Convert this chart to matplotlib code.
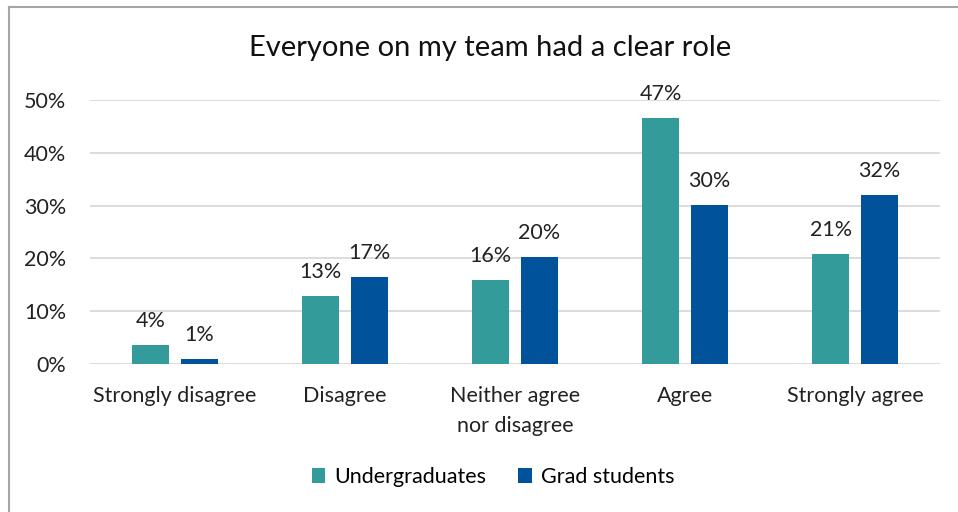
import matplotlib
from matplotlib import pyplot as plt
from matplotlib.lines import Line2D
import numpy as np

matplotlib.use('Agg')

categories = ['Strongly disagree', 'Disagree', 'Neither agree\nnor disagree', 'Agree', 'Strongly agree']
undergrad = [3.6, 12.9, 15.9, 46.6, 20.8]
grad = [0.9, 16.5, 20.3, 30.1, 32.0]
undergrad_labels = ['4%', '13%', '16%', '47%', '21%']
grad_labels = ['1%', '17%', '20%', '30%', '32%']

plt.rcParams['font.family'] = ['Lato', 'DejaVu Sans']

fig = plt.figure(figsize=(9.58, 5.12), dpi=100)
ax = fig.add_axes([90 / 958, 1 - 364 / 512, 850 / 958, 264 / 512])

x = np.arange(len(categories))
w = 0.22
off = 0.143
b1 = ax.bar(x - off, undergrad, w, color='#339B99', label='Undergraduates', zorder=3)
b2 = ax.bar(x + off, grad, w, color='#00529B', label='Grad students', zorder=3)

for bars, labels in ((b1, undergrad_labels), (b2, grad_labels)):
    for rect, lab in zip(bars, labels):
        ax.text(rect.get_x() + rect.get_width() / 2, rect.get_height() + 2.7, lab,
                ha='center', va='bottom', fontsize=15.5, color='#222222')

ax.set_xlim(-0.5, 4.5)
ax.set_ylim(0, 50)
ax.set_yticks(range(0, 51, 10))
ax.set_yticklabels([f'{v}%' for v in range(0, 51, 10)], fontsize=15.5, color='#222222')
ax.set_xticks(x)
ax.set_xticklabels(categories, fontsize=15.5, color='#222222', linespacing=1.6)
ax.tick_params(axis='y', length=0, pad=17)
ax.tick_params(axis='x', length=0, pad=16)
ax.grid(axis='y', color='#D9D9D9', linewidth=1.3, zorder=0)
for s in ax.spines.values():
    s.set_visible(False)

fig.text(490 / 958, 1 - 48 / 512, 'Everyone on my team had a clear role',
         ha='center', va='center', fontsize=21, color='#111111')

fig.legend(handles=[b1, b2], loc='center', bbox_to_anchor=(493 / 958, 1 - 477 / 512),
           ncol=2, frameon=False, fontsize=15.5, handlelength=0.65, handleheight=0.65,
           columnspacing=1.5, handletextpad=0.4)

fig.add_artist(Line2D([8.5 / 958, 8.5 / 958], [0, 1 - 7 / 512], color='#A6A6A6', linewidth=1.5))
fig.add_artist(Line2D([8.5 / 958, 1], [1 - 7 / 512, 1 - 7 / 512], color='#A6A6A6', linewidth=1.5))

plt.savefig('out.png', format='png')
plt.clf()
